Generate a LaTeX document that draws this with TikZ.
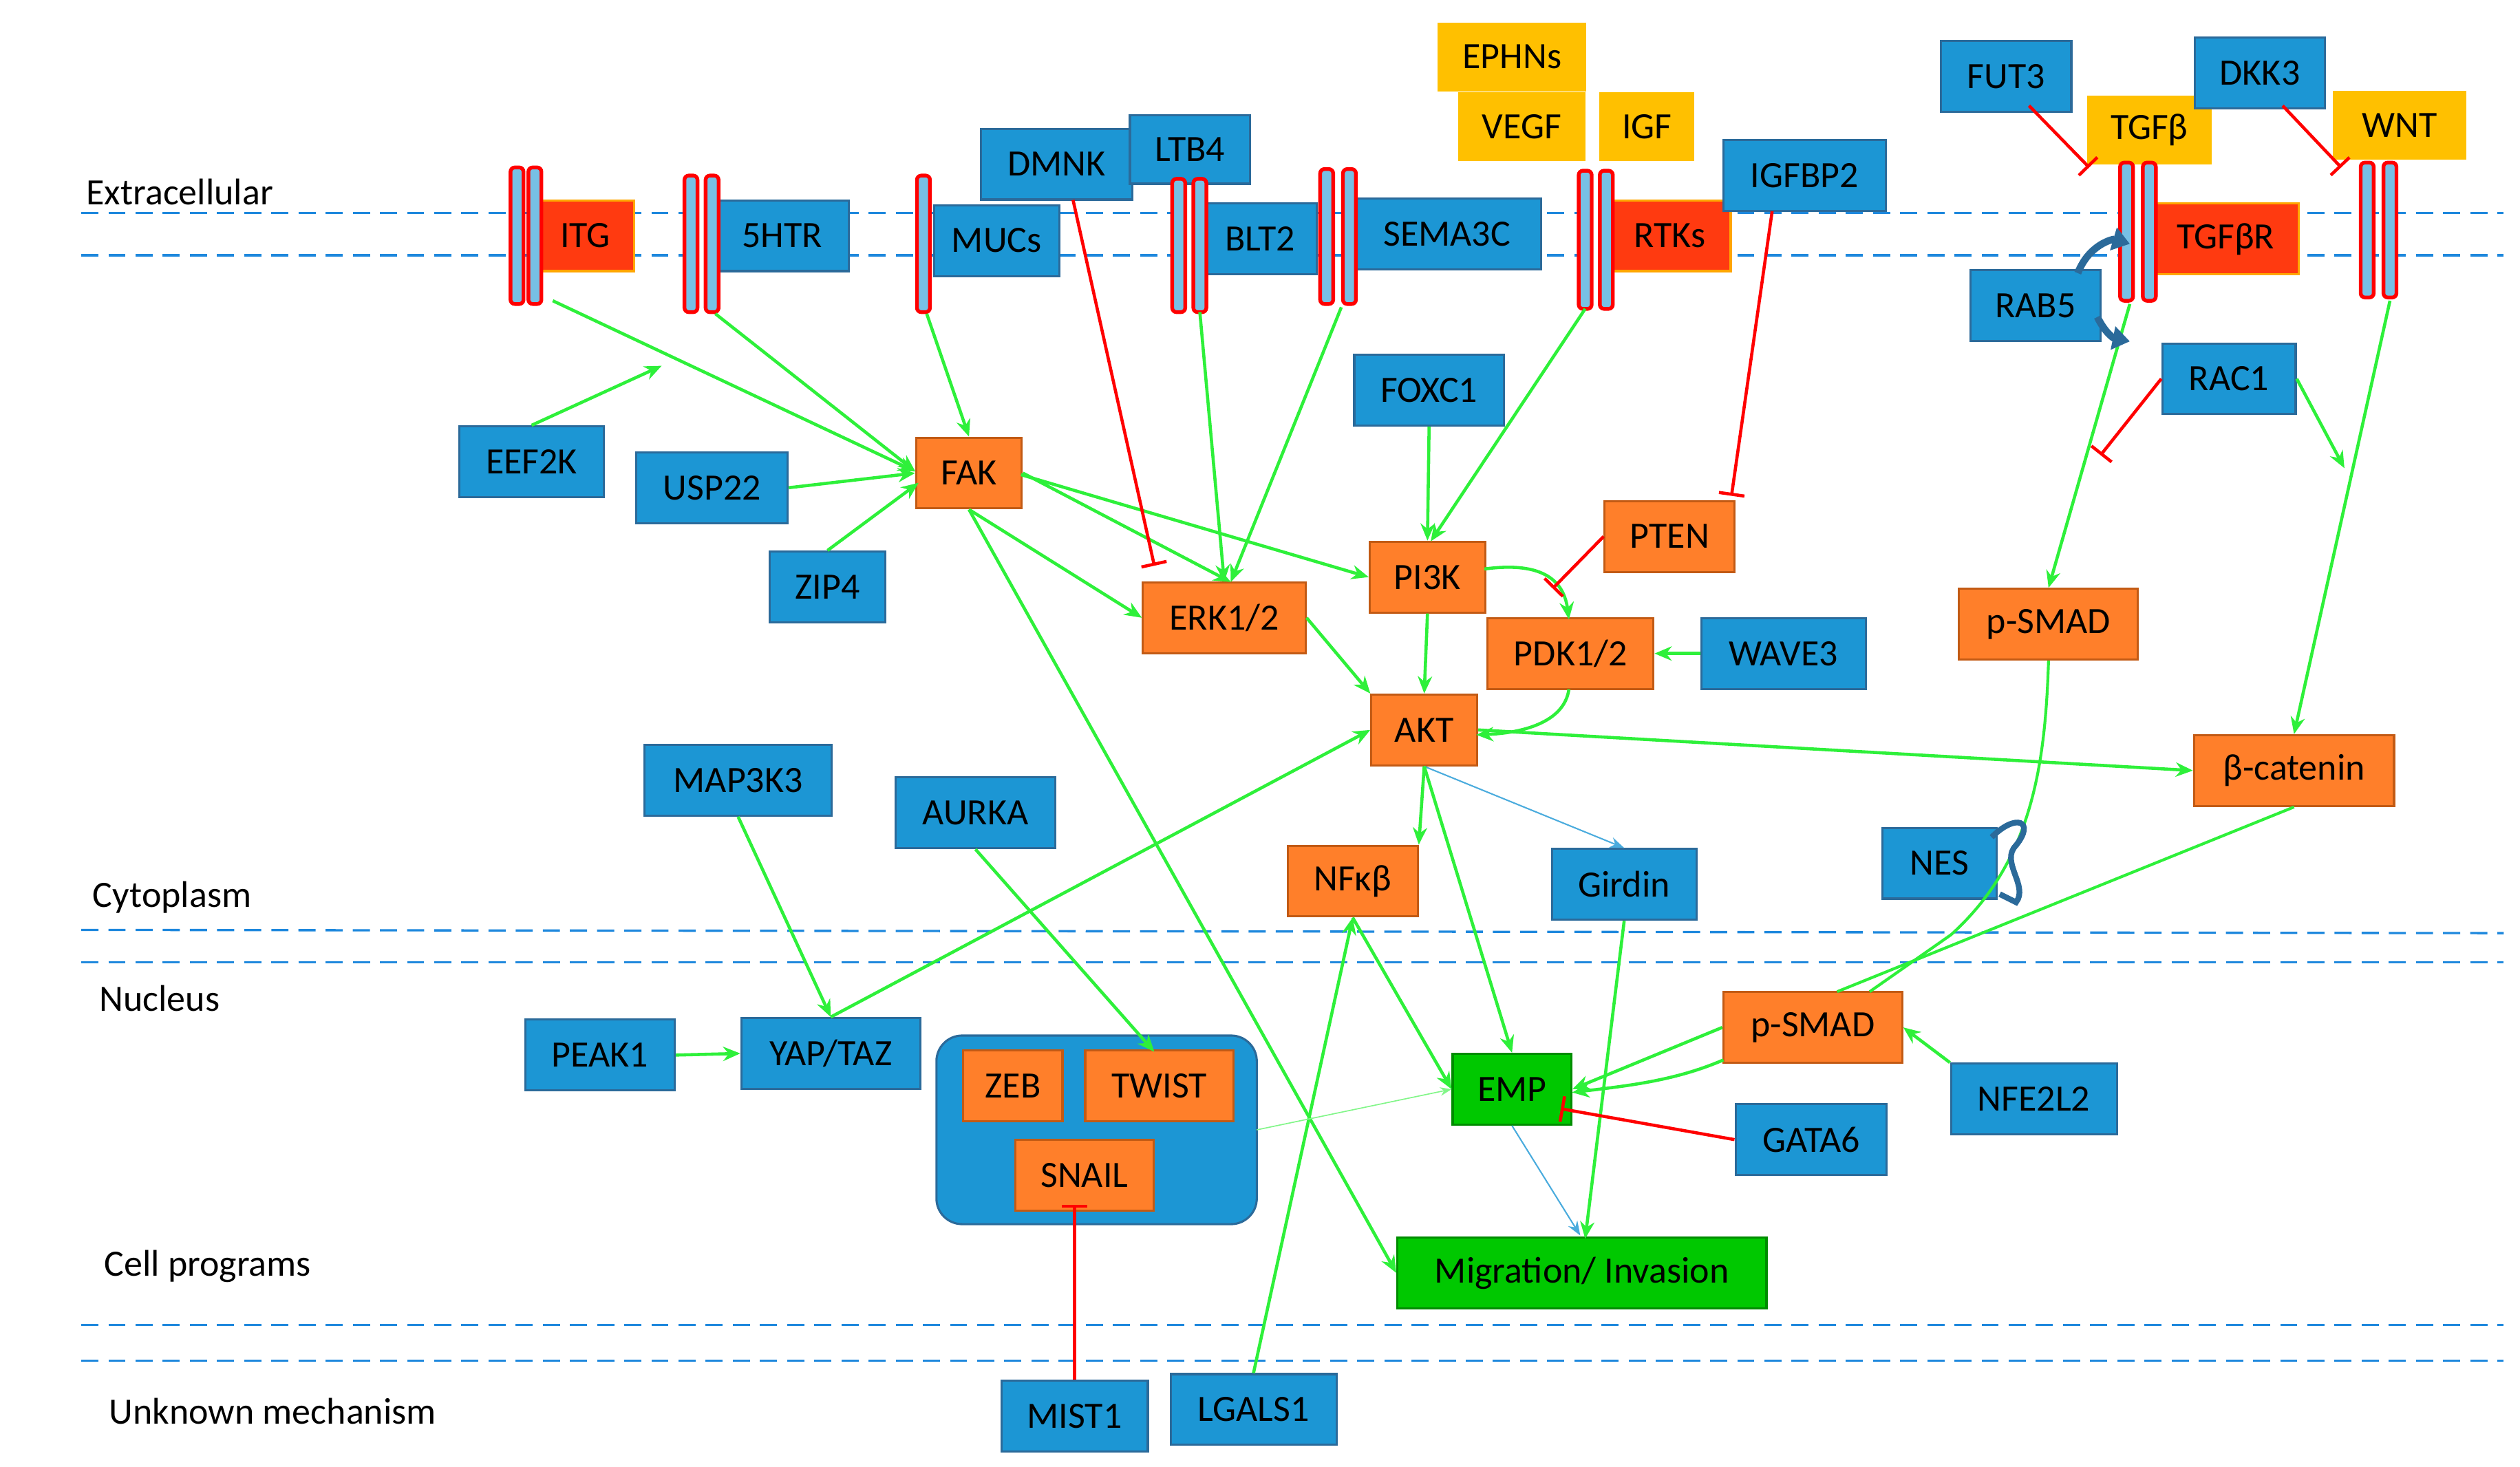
\documentclass[tikz,border=0pt]{standalone}
\usepackage{fontspec}
\setmainfont{Carlito}
\usetikzlibrary{arrows.meta}
\definecolor{bfill}{HTML}{1C96D4}
\definecolor{bdraw}{HTML}{2B6A9A}
\definecolor{ofill}{HTML}{FF7F2A}
\definecolor{odraw}{HTML}{C25A14}
\definecolor{rfill}{HTML}{FF3A10}
\definecolor{yfill}{HTML}{FFC000}
\definecolor{gfill}{HTML}{00C800}
\definecolor{garr}{HTML}{2EF03A}
\definecolor{dash}{HTML}{1E88DD}
\begin{document}
\begin{tikzpicture}[x=0.04cm,y=-0.04cm,
 font=\fontsize{26}{30}\selectfont,
 box/.style={inner sep=0pt,minimum height=1.74cm,line width=1.5pt},
 bl/.style={box,fill=bfill,draw=bdraw},
 or/.style={box,fill=ofill,draw=odraw},
 rd/.style={box,fill=rfill,draw=yfill!60!orange},
 ye/.style={box,fill=yfill,draw=yfill,minimum height=1.64cm},
 gr/.style={box,fill=gfill,draw=gfill!70!black},
 act/.style={draw=garr,line width=2.2pt,-{Stealth[length=12pt,width=10pt]}},
 inh/.style={draw=red,line width=2.2pt,-{Bar[width=18pt]}},
 thin/.style={draw=bfill!80!white,line width=1pt,-{Stealth[length=10pt]}},
 mem/.style={draw=dash,line width=1.6pt,dash pattern=on 12pt off 7pt},
 lay/.style={anchor=west},
 rb/.style={draw=red,line width=2.6pt,fill=bfill!60!white,rounded corners=3pt}]
\useasboundingbox (0,0) rectangle (1550,902);
% membranes
\draw[mem] (50,131)--(1540,131); \draw[mem] (50,157)--(1540,157);
\draw[mem] (50,572)--(1540,574); \draw[mem] (50,592)--(1540,592);
\draw[mem] (50,815)--(1540,815); \draw[mem] (50,837)--(1540,837);
\node[lay] (l1) at (50,118) {Extracellular};
\node[lay] (l2) at (54,552) {Cytoplasm};
\node[lay] (l3) at (58,614) {Nucleus};
\node[lay] (l4) at (61,779) {Cell programs};
\node[lay] (l5) at (64,868) {Unknown mechanism};
% container
\node[draw=bdraw,fill=bfill,line width=1.5pt,rounded corners=18pt,minimum width=7.88cm,minimum height=4.64cm,inner sep=0] (cont) at (674.5,695) {};
% nodes
\node[rd,minimum width=2.4cm] (ITG) at (360,145) {ITG};
\node[bl,minimum width=3.28cm] (HTR) at (481,145) {5HTR};
\node[bl,minimum width=3.08cm] (MUC) at (613,148) {MUCs};
\node[bl,minimum width=3.72cm] (DMNK) at (650,101) {DMNK};
\node[bl,minimum width=2.96cm,minimum height=1.68cm] (LTB4) at (732,92) {LTB4};
\node[bl,minimum width=2.8cm] (BLT2) at (775,147) {BLT2};
\node[bl,minimum width=4.64cm] (SEMA) at (890,144) {SEMA3C};
\node[rd,minimum width=3.0cm] (RTK) at (1027,145) {RTKs};
\node[ye,minimum width=3.6cm] (EPH) at (930,35) {EPHNs};
\node[ye,minimum width=3.08cm] (VEGF) at (936,78) {VEGF};
\node[ye,minimum width=2.28cm] (IGF) at (1013,78) {IGF};
\node[bl,minimum width=4.0cm] (IGFBP) at (1110,108) {IGFBP2};
\node[bl,minimum width=3.2cm] (FUT3) at (1234,47) {FUT3};
\node[ye,minimum width=3.0cm] (TGFb) at (1322,80) {TGFβ};
\node[bl,minimum width=3.2cm] (DKK3) at (1390,45) {DKK3};
\node[ye,minimum width=3.24cm] (WNT) at (1476,77) {WNT};
\node[rd,minimum width=3.6cm] (TGFR) at (1369,147) {TGFβR};
\node[bl,minimum width=3.2cm] (RAB5) at (1252,188) {RAB5};
\node[bl,minimum width=3.28cm] (RAC1) at (1371,233) {RAC1};
\node[bl,minimum width=3.56cm] (EEF) at (327,284) {EEF2K};
\node[bl,minimum width=3.72cm] (USP) at (438,300) {USP22};
\node[bl,minimum width=2.84cm] (ZIP) at (509,361) {ZIP4};
\node[or,minimum width=2.6cm] (FAK) at (596,291) {FAK};
\node[bl,minimum width=3.68cm] (FOX) at (879,240) {FOXC1};
\node[or,minimum width=2.84cm] (PI3K) at (878,355) {PI3K};
\node[or,minimum width=3.2cm] (PTEN) at (1027,330) {PTEN};
\node[or,minimum width=4.0cm] (ERK) at (753,380) {ERK1/2};
\node[or,minimum width=4.08cm] (PDK) at (966,402) {PDK1/2};
\node[bl,minimum width=4.04cm] (WAVE) at (1097,402) {WAVE3};
\node[or,minimum width=2.6cm] (AKT) at (876,449) {AKT};
\node[or,minimum width=4.4cm] (PS1) at (1260,384) {p-SMAD};
\node[or,minimum width=4.92cm] (BCAT) at (1411,474) {β-catenin};
\node[bl,minimum width=4.6cm] (MAP) at (454,480) {MAP3K3};
\node[bl,minimum width=3.92cm] (AUR) at (600,500) {AURKA};
\node[or,minimum width=3.2cm] (NFK) at (832,542) {NFκβ};
\node[bl,minimum width=3.56cm] (GIR) at (999,544) {Girdin};
\node[bl,minimum width=2.8cm] (NES) at (1193,531) {NES};
\node[bl,minimum width=3.68cm] (PEAK) at (369,649) {PEAK1};
\node[bl,minimum width=4.4cm] (YAP) at (511,648) {YAP/TAZ};
\node[or,minimum width=2.44cm] (ZEB) at (623,668) {ZEB};
\node[or,minimum width=3.64cm] (TWIST) at (713,668) {TWIST};
\node[or,minimum width=3.4cm] (SNAIL) at (667,723) {SNAIL};
\node[gr,minimum width=2.92cm] (EMP) at (930,670) {EMP};
\node[or,minimum width=4.4cm] (PS2) at (1115,632) {p-SMAD};
\node[bl,minimum width=4.08cm] (NFE) at (1251,676) {NFE2L2};
\node[bl,minimum width=3.72cm] (GATA) at (1114,701) {GATA6};
\node[gr,minimum width=9.08cm] (MIG) at (973,783) {Migration/ Invasion};
\node[bl,minimum width=3.6cm] (MIST) at (661,871) {MIST1};
\node[bl,minimum width=4.08cm] (LGAL) at (771,867) {LGALS1};
% receptor bars
\foreach \x/\a/\b in {318/103/187,329/103/187,425/108/192,438/108/192,568/108/192,725/110/192,738/110/192,816/104/187,830/104/187,975/105/190,988/105/190,1308/100/185,1322/100/185,1456/100/183,1470/100/183}
  \draw[rb] (\x-4,\a) rectangle (\x+4,\b);
\coordinate (cITG) at (340,185); \coordinate (cHTR) at (440,193);
\coordinate (cMUC) at (570,193); \coordinate (cBLT) at (738,192);
\coordinate (cSEM) at (825,189); \coordinate (cRTK) at (975,190);
\coordinate (cTGR) at (1310,187); \coordinate (cWNT) at (1470,185);
\coordinate (eEEF) at (407,225); \coordinate (eRAC) at (1442,288);
\coordinate (iRAC) at (1292,280);
% activations
\draw[act] (cITG) -- (563,290);
\draw[act] (EEF.north) -- (eEEF);
\draw[act] (cHTR) -- (563,290);
\draw[act] (cMUC) -- (FAK.north);
\draw[act] (USP.east) -- (FAK.west);
\draw[act] (ZIP.north) -- (565,297);
\draw[act] (cBLT) -- (753,358);
\draw[act] (cSEM) -- (757,358);
\draw[act] (FAK.east) -- (757,358);
\draw[act] (FAK.south) -- (ERK.west);
\draw[act] (628,292) -- (PI3K.west);
\draw[act] (FAK.south) -- (MIG.west);
\draw[act] (FOX.south) -- (PI3K.north);
\draw[act] (cRTK) -- (880,333);
\draw[act] (913,350) .. controls (950,345) and (962,358) .. (965,381);
\draw[act] (PI3K.south) -- (AKT.north);
\draw[act] (ERK.east) -- (AKT.north west);
\draw[act] (965,424) .. controls (962,445) and (935,451) .. (908,452);
\draw[act] (WAVE.west) -- (PDK.east);
\draw[act] (AKT.east) -- (BCAT.west);
\draw[act] (AKT.south) -- (NFK.north east);
\draw[thin] (AKT.south) -- (GIR.north);
\draw[act] (AKT.south) -- (EMP.north);
\draw[act] (YAP.north) -- (AKT.west);
\draw[act] (MAP.south) -- (YAP.north);
\draw[act] (PEAK.east) -- (YAP.west);
\draw[act] (AUR.south) -- (710,647);
\draw[act] (NFK.south) -- (EMP.west);
\draw[act] (LGAL.north) -- (NFK.south);
\draw[draw=garr!60!white,line width=0.8pt,-{Stealth[length=8pt]}] (773,695) -- (EMP.west);
\draw[act] (GIR.south) -- (975,762);
\draw[thin] (EMP.south) -- (972,760);
\draw[act] (PS2.west) -- (EMP.east);
\draw[act] (1060,652) .. controls (1030,665) and (1000,668) .. (967,672);
\draw[act] (NFE.north west) -- (PS2.east);
\draw[draw=garr,line width=2pt] (BCAT.south) -- (1130,610);
\draw[draw=garr,line width=2pt] (PS1.south) .. controls (1258,470) and (1250,530) .. (1200,575) -- (1150,610);
\draw[act] (cTGR) -- (PS1.north);
\draw[act] (RAC1.east) -- (eRAC);
\draw[act] (cWNT) -- (BCAT.north);
% inhibitions
\draw[inh] (660,123) -- (710,348);
\draw[inh] (1090,130) -- (1065,305);
\draw[inh] (PTEN.west) -- (955,362);
\draw[inh] (GATA.west) -- (960,682);
\draw[inh] (MIST.north) -- (661,741);
\draw[inh] (RAC1.west) -- (iRAC);
\draw[inh] (1248,65) -- (1285,103);
\draw[inh] (1404,65) -- (1440,103);
% RAB5 / NES curly arrows
\draw[draw=bdraw,line width=5pt,-{Triangle[length=12pt,width=16pt]}] (1278,168) .. controls (1285,150) and (1300,147) .. (1310,150);
\draw[draw=bdraw,line width=5pt,-{Triangle[length=12pt,width=16pt]}] (1290,195) .. controls (1295,205) and (1300,208) .. (1310,210);
\draw[draw=bdraw,line width=4pt] (1225,515) .. controls (1240,500) and (1252,505) .. (1240,520) .. controls (1230,530) and (1248,545) .. (1240,555) -- (1230,550);
\end{tikzpicture}
\end{document}
